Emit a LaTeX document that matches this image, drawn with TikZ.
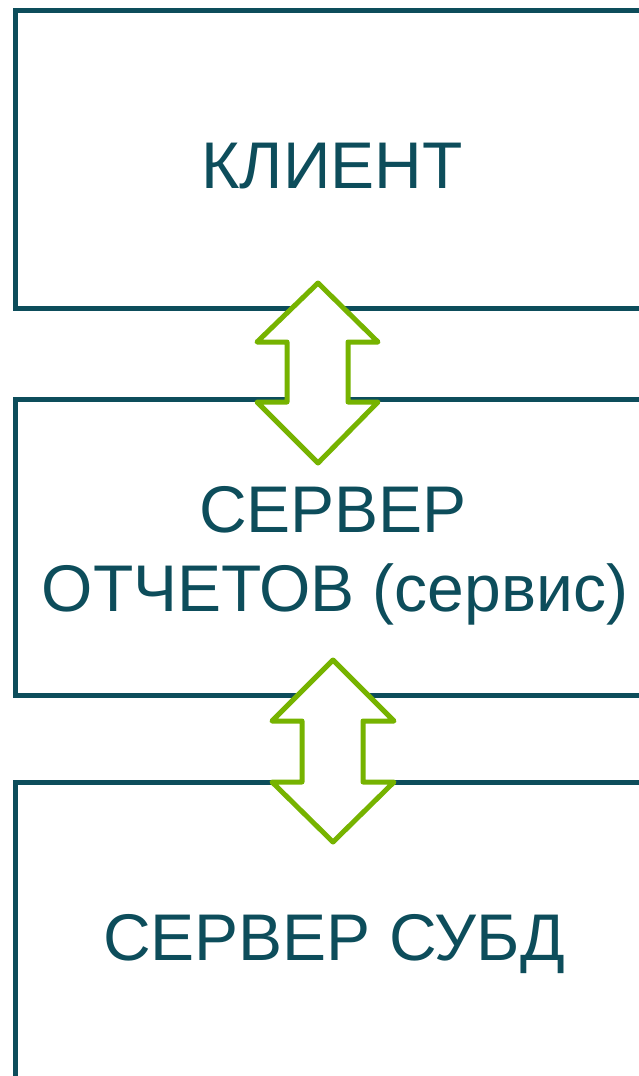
\documentclass[tikz,border=0pt]{standalone}
\usepackage{fontspec}
\setmainfont{Liberation Sans}
\definecolor{teal1}{HTML}{0D4D5B}
\definecolor{green1}{HTML}{76B300}
\begin{document}
\begin{tikzpicture}[x=1pt,y=-1pt,
  box/.style={draw=teal1,line width=5pt,fill=white,inner sep=0pt,outer sep=0pt,anchor=north west},
  lbl/.style={text=teal1,font=\fontsize{66}{79}\selectfont,anchor=base,inner sep=0pt,align=center},
  dblarrow/.style={draw=green1,fill=white,line width=5pt,line join=round}]
\useasboundingbox (0,0) rectangle (638,1076);
\fill[white] (0,0) rectangle (638,1076);
% boxes
\node[box,minimum width=636pt,minimum height=297.5pt] (client) at (15,10.5) {};
\node[box,minimum width=636pt,minimum height=296.5pt] (report) at (15,399) {};
\node[box,minimum width=636pt,minimum height=330pt] (dbms) at (15,782) {};
% labels
\node[lbl] (tclient) at (332,188.3) {КЛИЕНТ};
\node[lbl] (treport1) at (333,532) {СЕРВЕР};
\node[lbl] (treport2) at (335,611) {ОТЧЕТОВ (сервис)};
\node[lbl] (tdbms) at (334,960) {СЕРВЕР СУБД};
% double arrows
\draw[dblarrow] (318,283) -- (378,342) -- (348,342) -- (348,402) -- (378,402)
  -- (318,463) -- (257,402) -- (287,402) -- (287,342) -- (257,342) -- cycle;
\draw[dblarrow] (333,660) -- (394,721) -- (363,721) -- (363,782) -- (394,782)
  -- (333,842) -- (272,782) -- (302,782) -- (302,721) -- (272,721) -- cycle;
\end{tikzpicture}
\end{document}
